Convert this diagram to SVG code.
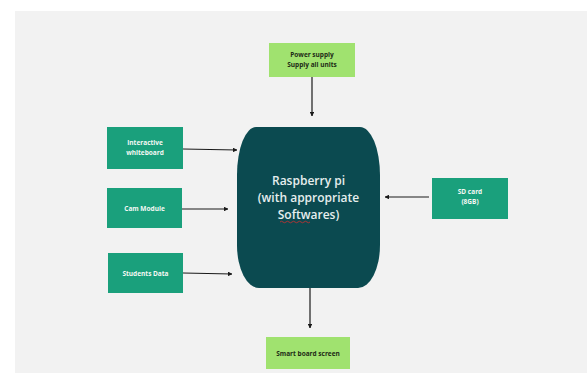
<svg xmlns="http://www.w3.org/2000/svg" width="587" height="373" viewBox="0 0 587 373">
<style>
.teal{fill:#1aa07c}
.lime{fill:#a0e26f}
.tw{font-family:"Open Sans",sans-serif;font-weight:700;font-size:6.5px;fill:#f4f8f4;text-anchor:middle}
.tb{font-family:"Open Sans",sans-serif;font-weight:700;font-size:6.5px;fill:#1d2b16;text-anchor:middle}
.tm{font-family:"Open Sans",sans-serif;font-weight:600;font-size:12px;fill:#e6eeee;text-anchor:middle}
.ln{stroke:#1a1a1a;stroke-width:1.2;fill:none;marker-end:url(#ah)}
</style>
<defs>
<marker id="ah" viewBox="0 0 10 10" refX="9" refY="5" markerWidth="4" markerHeight="4" orient="auto">
<path d="M0,0 L10,5 L0,10 Z" fill="#1a1a1a"/>
</marker>
</defs>
<rect x="0" y="0" width="587" height="373" fill="#ffffff"/>
<rect x="15" y="11" width="572" height="362" fill="#f2f2f2"/>
<g id="connectors">
<line class="ln" x1="312" y1="77" x2="312" y2="116"/>
<line class="ln" x1="183" y1="149" x2="237" y2="150"/>
<line class="ln" x1="182" y1="209" x2="228" y2="209"/>
<line class="ln" x1="183" y1="273" x2="232" y2="274"/>
<line class="ln" x1="429" y1="197" x2="385" y2="197"/>
<line class="ln" x1="310" y1="288" x2="310" y2="328"/>
</g>
<g id="power">
<rect class="lime" x="269" y="43" width="86" height="34"/>
<text class="tb" x="312" y="57">Power supply</text>
<text class="tb" x="312" y="67">Supply all units</text>
</g>
<g id="whiteboard">
<rect class="teal" x="107" y="127" width="76" height="42"/>
<text class="tw" x="145" y="145">Interactive</text>
<text class="tw" x="145" y="155">whiteboard</text>
</g>
<g id="cam">
<rect class="teal" x="107" y="188" width="75" height="40"/>
<text class="tw" x="144.5" y="210.5">Cam Module</text>
</g>
<g id="students">
<rect class="teal" x="108" y="253" width="75" height="40"/>
<text class="tw" x="145.5" y="275.5">Students Data</text>
</g>
<g id="sdcard">
<rect class="teal" x="432" y="178" width="76" height="41"/>
<text class="tw" x="470" y="194">SD card</text>
<text class="tw" x="470" y="204">(8GB)</text>
</g>
<g id="raspberry">
<path d="M256,127 H360 A20,48 0 0 1 380,175 V245 A22,43 0 0 1 358,288 H259 A22,43 0 0 1 237,245 V175 A19,48 0 0 1 256,127 Z" fill="#0b4a50"/>
<text class="tm" x="308.5" y="185">Raspberry pi</text>
<text class="tm" x="308.5" y="202">(with appropriate</text>
<text class="tm" x="308.5" y="219">Softwares)</text>
<path d="M280,222 q1.5,-1.5 3,0 t3,0 t3,0 t3,0 t3,0 t3,0 t3,0 t3,0 t3,0 t3,0" stroke="#d03030" stroke-width="0.8" fill="none"/>
</g>
<g id="smartboard">
<rect class="lime" x="266" y="337" width="84" height="32"/>
<text class="tb" x="308" y="355.5">Smart board screen</text>
</g>
</svg>
